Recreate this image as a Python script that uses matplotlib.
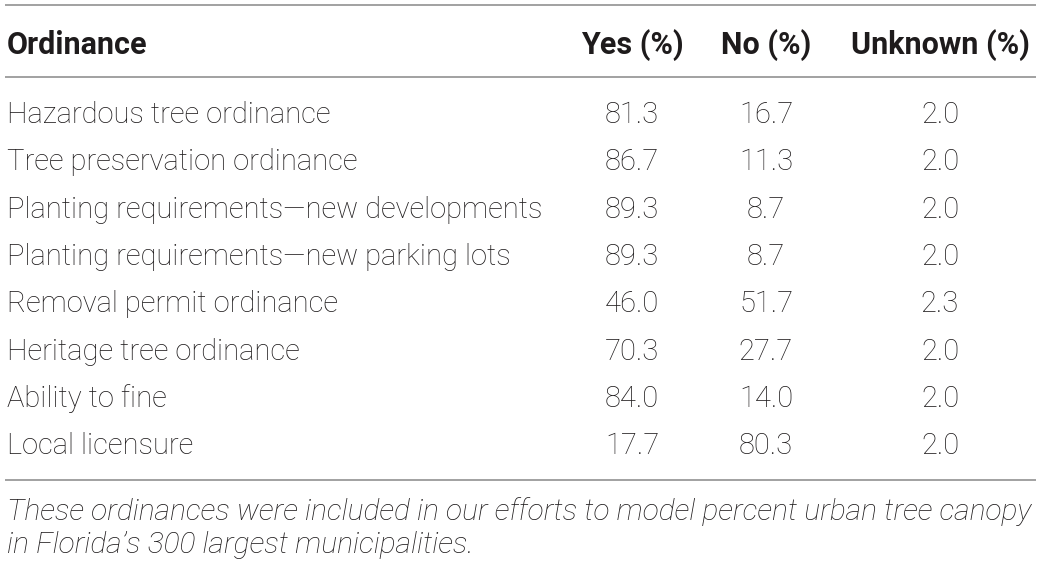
import matplotlib.pyplot as plt

# table content
columns = ["Ordinance", "Yes (%)", "No (%)", "Unknown (%)"]
ordinances = [
    "Hazardous tree ordinance",
    "Tree preservation ordinance",
    "Planting requirements\u2014new developments",
    "Planting requirements\u2014new parking lots",
    "Removal permit ordinance",
    "Heritage tree ordinance",
    "Ability to fine",
    "Local licensure",
]
yes_pct = [81.3, 86.7, 89.3, 89.3, 46.0, 70.3, 84.0, 17.7]
no_pct = [16.7, 11.3, 8.7, 8.7, 51.7, 27.7, 14.0, 80.3]
unknown_pct = [2.0, 2.0, 2.0, 2.0, 2.3, 2.0, 2.0, 2.0]
footnote = ["These ordinances were included in our efforts to model percent urban tree canopy",
            "in Florida\u2019s 300 largest municipalities."]

plt.rcParams["font.family"] = "Roboto"

W, H = 1041, 565
fig = plt.figure(figsize=(W / 100, H / 100), dpi=100)
ax = fig.add_axes([0, 0, 1, 1])
ax.set_xlim(0, W)
ax.set_ylim(H, 0)
ax.axis("off")

txt = "#1e1b1c"
rule = "#9a9a9a"
fs = 21

col_x = [7, 632, 766, 940]
header_y = 41.5
row_y0, row_dy = 112, 47.3

# rules
for y in (5, 77, 480):
    ax.plot([5, 1036], [y, y], color=rule, lw=1.3, solid_capstyle="butt")

# header
ax.text(col_x[0], header_y, columns[0], fontsize=22, fontweight="bold",
        color=txt, va="center_baseline", ha="left")
for x, c in zip(col_x[1:], columns[1:]):
    ax.text(x, header_y, c, fontsize=22, fontweight="bold", color=txt,
            va="center_baseline", ha="center")

# body
for i, name in enumerate(ordinances):
    y = row_y0 + i * row_dy
    ax.text(col_x[0], y, name, fontsize=fs, fontweight="light", color=txt,
            va="center_baseline", ha="left")
    for x, v in zip(col_x[1:], (yes_pct[i], no_pct[i], unknown_pct[i])):
        ax.text(x, y, f"{v:.1f}", fontsize=fs, fontweight="light", color=txt,
                va="center_baseline", ha="center")

for j, line in enumerate(footnote):
    ax.text(col_x[0], 509 + j * 33, line, fontsize=21.6, fontweight="light",
            style="italic", color=txt, va="center_baseline", ha="left")

fig.savefig("out.png", dpi=100)
